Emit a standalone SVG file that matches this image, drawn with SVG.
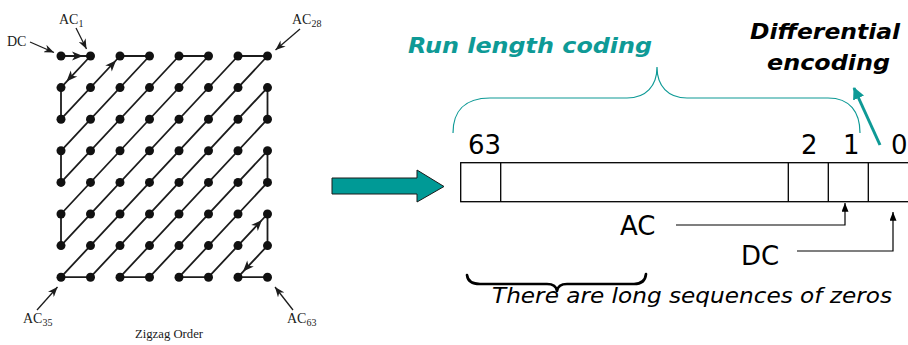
<svg xmlns="http://www.w3.org/2000/svg" width="908" height="345" viewBox="0 0 908 345">
  <style>
    .grid-line { fill: none; stroke: #1c1c1c; stroke-width: 1.8; stroke-linejoin: round; }
    .dot { fill: #111; }
    .ptr { fill: none; stroke: #1c1c1c; stroke-width: 1.3; marker-end: url(#ptrHead); }
    .serif { font-family: "Liberation Serif", "Times New Roman", serif; fill: #1a1a1a; }
    .num { font-family: "DejaVu Sans", Verdana, sans-serif; font-size: 26px; fill: #000; }
    .teal-title { font-family: "DejaVu Sans", Verdana, sans-serif; font-size: 22px; font-weight: bold; font-style: italic; fill: #0e9a96; }
    .black-title { font-family: "DejaVu Sans", Verdana, sans-serif; font-size: 22px; font-weight: bold; font-style: italic; fill: #000; }
    .cell { fill: #fff; stroke: #000; stroke-width: 1.3; }
    .conn { fill: none; stroke: #000; stroke-width: 1.2; marker-end: url(#smallHead); }
  </style>
  <defs>
    <marker id="ptrHead" viewBox="0 0 10 8" refX="10" refY="4" markerWidth="10" markerHeight="8" markerUnits="userSpaceOnUse" orient="auto">
      <path d="M0,0 L10,4 L0,8 L3,4 Z" fill="#1c1c1c"/>
    </marker>
    <marker id="smallHead" viewBox="0 0 10 8" refX="10" refY="4" markerWidth="9" markerHeight="7" markerUnits="userSpaceOnUse" orient="auto">
      <path d="M0,0 L10,4 L0,8 Z" fill="#000"/>
    </marker>
    <marker id="tealHead" viewBox="0 0 12 12" refX="11" refY="6" markerWidth="12" markerHeight="12" markerUnits="userSpaceOnUse" orient="auto">
      <path d="M0,0 L12,6 L0,12 Z" fill="#0e9a96"/>
    </marker>
    <path id="zzHead" d="M0,0 L-11,-4.5 L-8,0 L-11,4.5 Z" fill="#1c1c1c"/>
  </defs>

  <!-- 8x8 zigzag scan of DCT coefficients -->
  <g id="zigzag">
    <polyline class="grid-line" points="61,56 90.5,56 61,87.6 61,119.2 120,56 149.5,56 61,150.8 61,182.4 179,56 208.5,56 61,214 61,245.6 238,56 267.5,56 61,277.2 90.5,277.2 267.5,87.6 267.5,119.2 120,277.2 149.5,277.2 267.5,150.8 267.5,182.4 179,277.2 208.5,277.2 267.5,214 267.5,245.6 238,277.2 267.5,277.2"/>
    <use href="#zzHead" transform="translate(83,56)"/>
    <use href="#zzHead" transform="translate(66.5,81.5) rotate(133)"/>
    <use href="#zzHead" transform="translate(116,60.5) rotate(-47)"/>
    <use href="#zzHead" transform="translate(262,220) rotate(-47)"/>
    <use href="#zzHead" transform="translate(243,271.5) rotate(133)"/>
    <g id="dots">
      <g transform="translate(0,0)">
        <circle class="dot" cx="61" cy="56" r="4.5"/><circle class="dot" cx="90.5" cy="56" r="4.5"/><circle class="dot" cx="120" cy="56" r="4.5"/><circle class="dot" cx="149.5" cy="56" r="4.5"/><circle class="dot" cx="179" cy="56" r="4.5"/><circle class="dot" cx="208.5" cy="56" r="4.5"/><circle class="dot" cx="238" cy="56" r="4.5"/><circle class="dot" cx="267.5" cy="56" r="4.5"/>
      </g>
      <g transform="translate(0,31.6)">
        <circle class="dot" cx="61" cy="56" r="4.5"/><circle class="dot" cx="90.5" cy="56" r="4.5"/><circle class="dot" cx="120" cy="56" r="4.5"/><circle class="dot" cx="149.5" cy="56" r="4.5"/><circle class="dot" cx="179" cy="56" r="4.5"/><circle class="dot" cx="208.5" cy="56" r="4.5"/><circle class="dot" cx="238" cy="56" r="4.5"/><circle class="dot" cx="267.5" cy="56" r="4.5"/>
      </g>
      <g transform="translate(0,63.2)">
        <circle class="dot" cx="61" cy="56" r="4.5"/><circle class="dot" cx="90.5" cy="56" r="4.5"/><circle class="dot" cx="120" cy="56" r="4.5"/><circle class="dot" cx="149.5" cy="56" r="4.5"/><circle class="dot" cx="179" cy="56" r="4.5"/><circle class="dot" cx="208.5" cy="56" r="4.5"/><circle class="dot" cx="238" cy="56" r="4.5"/><circle class="dot" cx="267.5" cy="56" r="4.5"/>
      </g>
      <g transform="translate(0,94.8)">
        <circle class="dot" cx="61" cy="56" r="4.5"/><circle class="dot" cx="90.5" cy="56" r="4.5"/><circle class="dot" cx="120" cy="56" r="4.5"/><circle class="dot" cx="149.5" cy="56" r="4.5"/><circle class="dot" cx="179" cy="56" r="4.5"/><circle class="dot" cx="208.5" cy="56" r="4.5"/><circle class="dot" cx="238" cy="56" r="4.5"/><circle class="dot" cx="267.5" cy="56" r="4.5"/>
      </g>
      <g transform="translate(0,126.4)">
        <circle class="dot" cx="61" cy="56" r="4.5"/><circle class="dot" cx="90.5" cy="56" r="4.5"/><circle class="dot" cx="120" cy="56" r="4.5"/><circle class="dot" cx="149.5" cy="56" r="4.5"/><circle class="dot" cx="179" cy="56" r="4.5"/><circle class="dot" cx="208.5" cy="56" r="4.5"/><circle class="dot" cx="238" cy="56" r="4.5"/><circle class="dot" cx="267.5" cy="56" r="4.5"/>
      </g>
      <g transform="translate(0,158)">
        <circle class="dot" cx="61" cy="56" r="4.5"/><circle class="dot" cx="90.5" cy="56" r="4.5"/><circle class="dot" cx="120" cy="56" r="4.5"/><circle class="dot" cx="149.5" cy="56" r="4.5"/><circle class="dot" cx="179" cy="56" r="4.5"/><circle class="dot" cx="208.5" cy="56" r="4.5"/><circle class="dot" cx="238" cy="56" r="4.5"/><circle class="dot" cx="267.5" cy="56" r="4.5"/>
      </g>
      <g transform="translate(0,189.6)">
        <circle class="dot" cx="61" cy="56" r="4.5"/><circle class="dot" cx="90.5" cy="56" r="4.5"/><circle class="dot" cx="120" cy="56" r="4.5"/><circle class="dot" cx="149.5" cy="56" r="4.5"/><circle class="dot" cx="179" cy="56" r="4.5"/><circle class="dot" cx="208.5" cy="56" r="4.5"/><circle class="dot" cx="238" cy="56" r="4.5"/><circle class="dot" cx="267.5" cy="56" r="4.5"/>
      </g>
      <g transform="translate(0,221.2)">
        <circle class="dot" cx="61" cy="56" r="4.5"/><circle class="dot" cx="90.5" cy="56" r="4.5"/><circle class="dot" cx="120" cy="56" r="4.5"/><circle class="dot" cx="149.5" cy="56" r="4.5"/><circle class="dot" cx="179" cy="56" r="4.5"/><circle class="dot" cx="208.5" cy="56" r="4.5"/><circle class="dot" cx="238" cy="56" r="4.5"/><circle class="dot" cx="267.5" cy="56" r="4.5"/>
      </g>
    </g>
  </g>

  <!-- coefficient labels around the grid -->
  <g id="label-dc">
    <text class="serif" x="7" y="46" font-size="14">DC</text>
    <line class="ptr" x1="30" y1="42" x2="54" y2="52.5"/>
  </g>
  <g id="label-ac1">
    <text class="serif" x="59" y="24" font-size="14">AC<tspan font-size="10" dy="3">1</tspan></text>
    <line class="ptr" x1="76" y1="28" x2="86.5" y2="49"/>
  </g>
  <g id="label-ac28">
    <text class="serif" x="292" y="24" font-size="14">AC<tspan font-size="10" dy="3">28</tspan></text>
    <line class="ptr" x1="300" y1="29" x2="275.5" y2="50"/>
  </g>
  <g id="label-ac35">
    <text class="serif" x="23" y="323" font-size="14">AC<tspan font-size="10" dy="3">35</tspan></text>
    <line class="ptr" x1="37" y1="310" x2="57.5" y2="287"/>
  </g>
  <g id="label-ac63">
    <text class="serif" x="287" y="323" font-size="14">AC<tspan font-size="10" dy="3">63</tspan></text>
    <line class="ptr" x1="293" y1="310" x2="275" y2="287"/>
  </g>
  <g id="caption-zigzag">
    <text class="serif" x="169" y="338" font-size="12.7" text-anchor="middle">Zigzag Order</text>
  </g>

  <!-- block arrow into the coefficient vector -->
  <g id="big-arrow">
    <path d="M332,178 L417,178 L417,170 L444,186.5 L417,202 L417,194 L332,194 Z" fill="#009a96" stroke="#1a1a1a" stroke-width="1"/>
  </g>

  <!-- serialized coefficient vector -->
  <g id="vector">
    <rect class="cell" x="460.7" y="162.7" width="460" height="39"/>
    <line x1="500.7" y1="162.7" x2="500.7" y2="201.7" stroke="#000" stroke-width="1.3"/>
    <line x1="788.3" y1="162.7" x2="788.3" y2="201.7" stroke="#000" stroke-width="1.3"/>
    <line x1="828.3" y1="162.7" x2="828.3" y2="201.7" stroke="#000" stroke-width="1.3"/>
    <line x1="868.3" y1="162.7" x2="868.3" y2="201.7" stroke="#000" stroke-width="1.3"/>
    <text class="num" x="468" y="154">63</text>
    <text class="num" x="801" y="154">2</text>
    <text class="num" x="843" y="154">1</text>
    <text class="num" x="891" y="154">0</text>
  </g>

  <g id="label-run-length">
    <text class="teal-title" x="408" y="53" textLength="244" lengthAdjust="spacingAndGlyphs">Run length coding</text>
  </g>
  <g id="label-differential">
    <text class="black-title" x="750" y="39" textLength="150" lengthAdjust="spacingAndGlyphs">Differential</text>
    <text class="black-title" x="767" y="70" textLength="123" lengthAdjust="spacingAndGlyphs">encoding</text>
  </g>

  <g id="label-ac">
    <text class="num" x="620" y="235">AC</text>
  </g>
  <g id="label-dc-vec">
    <text class="num" x="741" y="265">DC</text>
  </g>

  <g id="caption-zeros">
    <text x="492" y="303" font-family="DejaVu Sans, Verdana, sans-serif" font-size="22" font-style="italic" fill="#000" textLength="400" lengthAdjust="spacingAndGlyphs">There are long sequences of zeros</text>
  </g>

  <g id="connectors">
    <!-- run-length brace over AC coefficients -->
    <path d="M453,133 C453,112 464,98 490,98 L627,98 C646,98 657,86 657,67 C657,86 668,98 687,98 L828,98 C850,98 860,112 860,133" fill="none" stroke="#0e9a96" stroke-width="1.2"/>
    <!-- differential coding pointer -->
    <line x1="880" y1="145" x2="854" y2="88" stroke="#0e9a96" stroke-width="3" marker-end="url(#tealHead)"/>
    <!-- AC / DC pointers into the vector -->
    <polyline class="conn" points="676,225 845,225 845,203"/>
    <polyline class="conn" points="797,251 893,251 893,212"/>
    <!-- brace under the zero run -->
    <path d="M467,275 Q468,284 480,284 L547,284 Q556,284 557,291 Q558,284 567,284 L634,284 Q645,284 646,274" fill="none" stroke="#000" stroke-width="2.6" stroke-linecap="round" stroke-linejoin="round"/>
  </g>
</svg>
